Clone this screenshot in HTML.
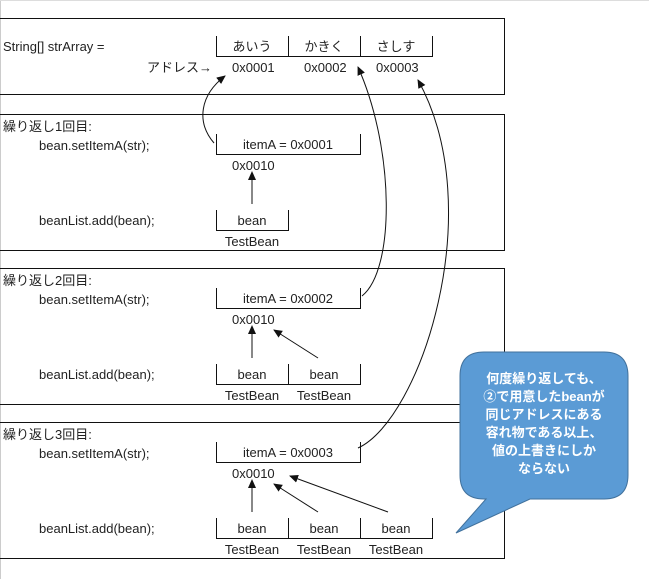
<!DOCTYPE html>
<html><head><meta charset="utf-8"><style>
body{margin:0;background:#fff}
svg{display:block}
text{font-family:"Liberation Sans","Noto Sans CJK JP",sans-serif;font-size:13px;fill:#222}
</style></head><body>
<svg width="649" height="579" viewBox="0 0 649 579" xmlns="http://www.w3.org/2000/svg">
<defs><marker id="a" markerWidth="10" markerHeight="10" refX="8" refY="5" orient="auto" markerUnits="userSpaceOnUse"><path d="M0,1 L9,5 L0,9 z" fill="#111"/></marker></defs>
<rect x="0" y="0" width="649" height="579" fill="#fff"/>
<line x1="0.5" y1="0" x2="0.5" y2="579" stroke="#ccc"/>
<line x1="0" y1="0.5" x2="649" y2="0.5" stroke="#ddd"/>
<g fill="none" stroke="#111" stroke-width="1">
<path d="M0,18.5H504.5V94.5H0"/>
<path d="M0,114.5H504.5V250.5H0"/>
<path d="M0,268.5H504.5V404.5H0"/>
<path d="M0,422.5H504.5V558.5H0"/>
<path d="M216.5,36V56.5H432.5V36M288.5,36V56M360.5,36V56"/>
<path d="M216.5,134V154.5H360.5V134"/>
<path d="M216.5,210V230.5H288.5V210"/>
<path d="M216.5,288V308.5H360.5V288"/>
<path d="M216.5,364V384.5H360.5V364M288.5,364V384"/>
<path d="M216.5,442V462.5H360.5V442"/>
<path d="M216.5,518V538.5H432.5V518M288.5,518V538M360.5,518V538"/>
<path d="M214,143 C196,122 200,95 225,76" marker-end="url(#a)"/>
<path d="M362,296 C395,270 395,150 358,67" marker-end="url(#a)"/>
<path d="M358,448 C420,420 490,210 418,80" marker-end="url(#a)"/>
<line x1="252" y1="204" x2="252" y2="172" marker-end="url(#a)"/>
<line x1="252" y1="358" x2="252" y2="326" marker-end="url(#a)"/>
<line x1="318" y1="358" x2="274" y2="330" marker-end="url(#a)"/>
<line x1="252" y1="512" x2="252" y2="480" marker-end="url(#a)"/>
<line x1="318" y1="512" x2="274" y2="484" marker-end="url(#a)"/>
<line x1="388" y1="512" x2="290" y2="476" marker-end="url(#a)"/>
</g>
<text x="3" y="51">String[] strArray =</text>
<text x="252" y="51" text-anchor="middle">あいう</text>
<text x="324" y="51" text-anchor="middle">かきく</text>
<text x="396" y="51" text-anchor="middle">さしす</text>
<text x="147" y="72">アドレス→</text>
<text x="232" y="72">0x0001</text>
<text x="304" y="72">0x0002</text>
<text x="376" y="72">0x0003</text>

<text x="3" y="131">繰り返し1回目:</text>
<text x="39" y="150">bean.setItemA(str);</text>
<text x="288" y="149" text-anchor="middle">itemA = 0x0001</text>
<text x="232" y="170">0x0010</text>
<text x="39" y="225">beanList.add(bean);</text>
<text x="252" y="225" text-anchor="middle">bean</text>
<text x="252" y="246" text-anchor="middle">TestBean</text>

<text x="3" y="285">繰り返し2回目:</text>
<text x="39" y="304">bean.setItemA(str);</text>
<text x="288" y="303" text-anchor="middle">itemA = 0x0002</text>
<text x="232" y="324">0x0010</text>
<text x="39" y="379">beanList.add(bean);</text>
<text x="252" y="379" text-anchor="middle">bean</text>
<text x="324" y="379" text-anchor="middle">bean</text>
<text x="252" y="400" text-anchor="middle">TestBean</text>
<text x="324" y="400" text-anchor="middle">TestBean</text>

<text x="3" y="439">繰り返し3回目:</text>
<text x="39" y="458">bean.setItemA(str);</text>
<text x="288" y="457" text-anchor="middle">itemA = 0x0003</text>
<text x="232" y="478">0x0010</text>
<text x="39" y="533">beanList.add(bean);</text>
<text x="252" y="533" text-anchor="middle">bean</text>
<text x="324" y="533" text-anchor="middle">bean</text>
<text x="396" y="533" text-anchor="middle">bean</text>
<text x="252" y="554" text-anchor="middle">TestBean</text>
<text x="324" y="554" text-anchor="middle">TestBean</text>
<text x="396" y="554" text-anchor="middle">TestBean</text>

<path d="M484,352 H604 Q628,352 628,376 V475 Q628,499 604,499 H530 L456,533 L486,499 H484 Q460,499 460,475 V376 Q460,352 484,352 Z" fill="#5b9bd5" stroke="#41719c" stroke-width="1"/>
<g font-weight="bold" text-anchor="middle">
<text x="544" y="383" style="fill:#fff">何度繰り返しても、</text>
<text x="544" y="401" style="fill:#fff">②で用意したbeanが</text>
<text x="544" y="419" style="fill:#fff">同じアドレスにある</text>
<text x="544" y="437" style="fill:#fff">容れ物である以上、</text>
<text x="544" y="455" style="fill:#fff">値の上書きにしか</text>
<text x="544" y="473" style="fill:#fff">ならない</text>
</g>
</svg>
</body></html>
